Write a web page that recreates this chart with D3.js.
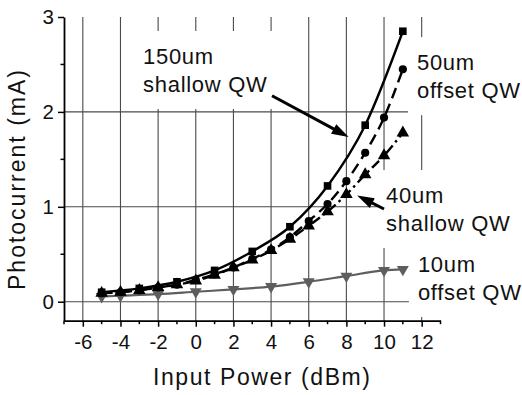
<!DOCTYPE html>
<html>
<head>
<meta charset="utf-8">
<script src="https://cdn.jsdelivr.net/npm/d3@7"></script>
<style>
  html, body { margin: 0; padding: 0; background: #fff; }
  svg { display: block; font-family: Arial, "Liberation Sans", sans-serif; }
</style>
</head>
<body>
<svg id="chart" width="522" height="395"></svg>
<script>
// Input power (dBm) sample points
const powerAll = [-5, -4, -3, -2, -1, 0, 1, 2, 3, 4, 5, 6, 7, 8, 9, 10, 11];
const power150 = [-5, -3, -1, 1, 3, 5, 7, 9, 11];
const power10  = [-5, -4, -2, 0, 2, 4, 6, 8, 10, 11];

// Photocurrent (mA) per device
const current150 = [0.10, 0.14, 0.21, 0.33, 0.53, 0.79, 1.22, 1.86, 2.85];
const current50  = [0.09, 0.10, 0.12, 0.15, 0.18, 0.23, 0.29, 0.36, 0.45, 0.55, 0.68, 0.85, 1.03, 1.27, 1.57, 1.94, 2.45];
const current40  = [0.09, 0.10, 0.12, 0.15, 0.18, 0.22, 0.28, 0.36, 0.44, 0.54, 0.66, 0.80, 0.95, 1.13, 1.34, 1.54, 1.78];
const current10  = [0.055, 0.063, 0.08, 0.105, 0.13, 0.16, 0.21, 0.27, 0.33, 0.34];

// Axis ticks
const xTicks = [-6, -4, -2, 0, 2, 4, 6, 8, 10, 12];
const xMinorTicks = [-7, -5, -3, -1, 1, 3, 5, 7, 9, 11, 13];
const yTicks = [0, 1, 2, 3];
const yMinorTicks = [0.5, 1.5, 2.5];

// Device labels
const labelLines = [
  ["150um", "shallow QW"],
  ["50um", "offset QW"],
  ["40um", "shallow QW"],
  ["10um", "offset QW"]
];

const FONT = "Arial, \"Liberation Sans\", sans-serif";
const svg = d3.select("#chart");
const x = d3.scaleLinear().domain([-7, 13]).range([64, 440.5]);
const y = d3.scaleLinear().domain([-0.2, 3]).range([320.7, 17]);

const gridColor = "#4a4a4a";

// Grid
const grid = svg.append("g");
grid.selectAll("line.v").data(xTicks).join("line")
  .attr("x1", d => x(d)).attr("x2", d => x(d))
  .attr("y1", y(-0.2)).attr("y2", y(3))
  .attr("stroke", gridColor).attr("stroke-width", 1.1);
grid.selectAll("line.h").data([0, 1, 2]).join("line")
  .attr("x1", x(-7)).attr("x2", x(13))
  .attr("y1", d => y(d)).attr("y2", d => y(d))
  .attr("stroke", gridColor).attr("stroke-width", 1.1);

// Label anchors in data units (left edge, first baseline)
const labelPos = [
  { px: -2.8, py: 2.505 },
  { px: 11.75, py: 2.44 },
  { px: 10.11, py: 1.04 },
  { px: 11.8, py: 0.313 }
];
const lineGap = 28;

const boxLayer = svg.append("g");
const textLayer = svg.append("g");

labelLines.forEach((lines, i) => {
  const x0 = x(labelPos[i].px);
  const b0 = y(labelPos[i].py);
  const t = textLayer.append("text")
    .attr("font-size", 22)
    .attr("font-family", FONT)
    .attr("letter-spacing", "0.7px")
    .attr("fill", "#111");
  lines.forEach((s, k) => {
    t.append("tspan").attr("x", x0).attr("y", b0 + k * lineGap).text(s);
  });
  const bb = t.node().getBBox();
  const lastB = b0 + (lines.length - 1) * lineGap;
  boxLayer.append("rect")
    .attr("x", x0 - 9)
    .attr("y", b0 - 33)
    .attr("width", bb.width + 18)
    .attr("height", (lastB + 17) - (b0 - 33))
    .attr("fill", "#fff");
});

// Axes
const axes = svg.append("g");
const xAxis = axes.append("g").attr("transform", `translate(0,${y(-0.2)})`)
  .call(d3.axisBottom(x).tickValues(xTicks).tickSize(6).tickSizeOuter(0).tickPadding(8)
    .tickFormat(d => d < 0 ? "-" + Math.abs(d) : d));
axes.append("g").attr("transform", `translate(0,${y(-0.2)})`)
  .selectAll("line").data(xMinorTicks).join("line")
  .attr("x1", d => x(d)).attr("x2", d => x(d))
  .attr("y1", 0).attr("y2", 3.5).attr("stroke", "#000").attr("stroke-width", 1.5);

const yAxis = axes.append("g").attr("transform", `translate(${x(-7)},0)`)
  .call(d3.axisLeft(y).tickValues(yTicks).tickSize(6).tickSizeOuter(0).tickPadding(4)
    .tickFormat(d3.format("d")));
axes.append("g").attr("transform", `translate(${x(-7)},0)`)
  .selectAll("line").data(yMinorTicks).join("line")
  .attr("x1", -3.5).attr("x2", 0)
  .attr("y1", d => y(d)).attr("y2", d => y(d))
  .attr("stroke", "#000").attr("stroke-width", 1.5);

[xAxis, yAxis].forEach(a => {
  a.attr("font-family", FONT);
  a.select(".domain").attr("stroke", "#000").attr("stroke-width", 1.8);
  a.selectAll(".tick line").attr("stroke", "#000").attr("stroke-width", 1.5);
  a.selectAll(".tick text")
    .attr("font-size", 20.5)
    .attr("font-family", FONT)
    .attr("fill", "#111");
});

// Axis titles
svg.append("text")
  .attr("x", 261.5).attr("y", 385)
  .attr("text-anchor", "middle")
  .attr("font-size", 23)
  .attr("font-family", FONT)
  .attr("textLength", 217).attr("lengthAdjust", "spacing")
  .attr("fill", "#111")
  .text("Input Power (dBm)");
svg.append("text")
  .attr("transform", "translate(25,180) rotate(-90)")
  .attr("text-anchor", "middle")
  .attr("font-size", 23)
  .attr("font-family", FONT)
  .attr("textLength", 220).attr("lengthAdjust", "spacing")
  .attr("fill", "#111")
  .text("Photocurrent (mA)");

// Data series
const line = d3.line().x(d => x(d[0])).y(d => y(d[1])).curve(d3.curveMonotoneX);
const zip = (xs, ys) => xs.map((v, i) => [v, ys[i]]);

const series = [
  { pts: zip(power10, current10), color: "#5e5e5e", dash: null, width: 2.2, marker: "triDown" },
  { pts: zip(powerAll, current40), color: "#000", dash: "10,4,2.5,4", width: 2.4, marker: "triUp" },
  { pts: zip(powerAll, current50), color: "#000", dash: "11,6", width: 2.4, marker: "circle" },
  { pts: zip(power150, current150), color: "#000", dash: null, width: 2.4, marker: "square" }
];

const symbolTypes = {
  triDown: d3.symbolTriangle, triUp: d3.symbolTriangle,
  circle: d3.symbolCircle, square: d3.symbolSquare
};
const symbolSize = { triDown: 62, triUp: 68, circle: 52, square: 58 };

const dataLayer = svg.append("g");
series.forEach(s => {
  dataLayer.append("path")
    .attr("d", line(s.pts))
    .attr("fill", "none")
    .attr("stroke", s.color)
    .attr("stroke-width", s.width)
    .attr("stroke-dasharray", s.dash);
  const sym = d3.symbol().type(symbolTypes[s.marker]).size(symbolSize[s.marker]);
  dataLayer.append("g").selectAll("path").data(s.pts).join("path")
    .attr("d", sym)
    .attr("transform", d => `translate(${x(d[0])},${y(d[1])})` + (s.marker === "triDown" ? " rotate(180)" : ""))
    .attr("fill", s.color);
});

// Callout arrows (data units)
const arrows = [
  { from: [4.05, 2.17], to: [8.12, 1.735] },
  { from: [10.0, 0.977], to: [8.57, 1.12] }
];
const arrowLayer = svg.append("g");
arrows.forEach(a => {
  const x1 = x(a.from[0]), y1 = y(a.from[1]);
  const x2 = x(a.to[0]), y2 = y(a.to[1]);
  const ang = Math.atan2(y2 - y1, x2 - x1);
  const hl = 17, hw = 5.5;
  const bx = x2 - hl * Math.cos(ang), by = y2 - hl * Math.sin(ang);
  arrowLayer.append("line")
    .attr("x1", x1).attr("y1", y1).attr("x2", bx + 2 * Math.cos(ang)).attr("y2", by + 2 * Math.sin(ang))
    .attr("stroke", "#000").attr("stroke-width", 3);
  const px = -Math.sin(ang), py = Math.cos(ang);
  arrowLayer.append("path")
    .attr("d", `M${x2},${y2}L${bx + hw * px},${by + hw * py}L${bx - hw * px},${by - hw * py}Z`)
    .attr("fill", "#000");
});

// Keep labels on top
textLayer.raise();
</script>
</body>
</html>
